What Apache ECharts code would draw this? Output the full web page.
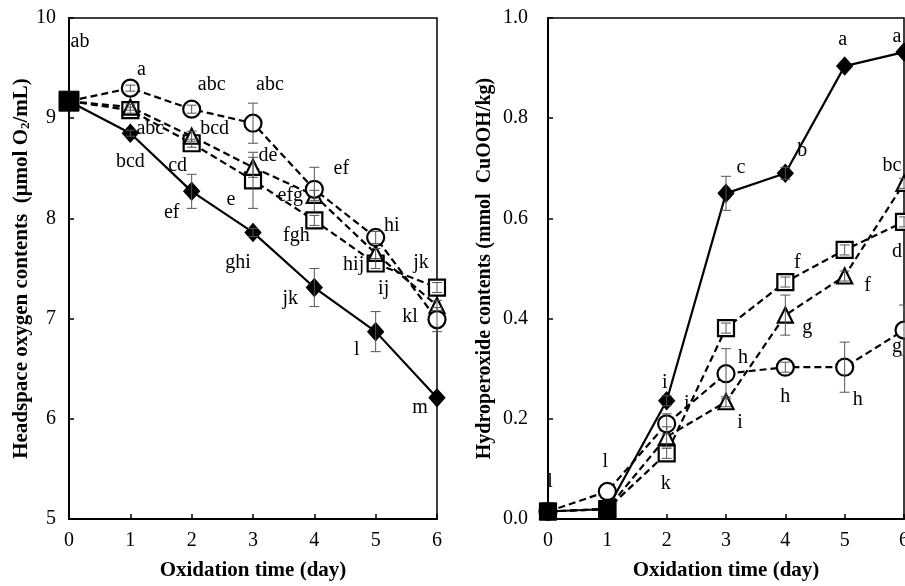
<!DOCTYPE html>
<html>
<head>
<meta charset="utf-8">
<script src="https://cdn.jsdelivr.net/npm/echarts@6/dist/echarts.min.js"></script>
<style>
  html, body { margin: 0; padding: 0; background: #fff; }
  #main { width: 905px; height: 586px; }
</style>
</head>
<body>
<div id="main"></div>
<script>
// oxidation days
var days = [0, 1, 2, 3, 4, 5, 6];

// headspace oxygen (umol O2/mL)
var o2Diamond  = [9.17, 8.85, 8.27, 7.86, 7.31, 6.87, 6.21];
var o2Circle   = [9.17, 9.30, 9.09, 8.95, 8.29, 7.81, 6.99];
var o2Triangle = [9.17, 9.11, 8.82, 8.51, 8.23, 7.65, 7.13];
var o2Square   = [9.17, 9.08, 8.75, 8.38, 7.98, 7.55, 7.31];
var o2DiamondErr  = [0, 0.03, 0.17, 0.04, 0.19, 0.20, 0];
var o2CircleErr   = [0, 0.03, 0.04, 0.20, 0.22, 0.06, 0.12];
var o2TriangleErr = [0, 0.03, 0.05, 0.10, 0.05, 0.05, 0.05];
var o2SquareErr   = [0, 0.03, 0.04, 0.28, 0.05, 0.05, 0.05];
var o2DiamondTags  = ['ab', 'bcd', 'ef', 'ghi', 'jk', 'l', 'm'];
var o2CircleTags   = ['', 'a', 'abc', 'abc', 'ef', 'hi', ''];
var o2TriangleTags = ['', 'abc', 'bcd', 'de', 'efg', 'hij', 'kl'];
var o2SquareTags   = ['', '', 'cd', 'e', 'fgh', 'ij', 'jk'];

// hydroperoxide (mmol CuOOH/kg)
var hpDiamond  = [0.015, 0.020, 0.236, 0.650, 0.690, 0.904, 0.932];
var hpCircle   = [0.015, 0.055, 0.190, 0.290, 0.303, 0.303, 0.377];
var hpTriangle = [0.015, 0.020, 0.164, 0.234, 0.407, 0.485, 0.670];
var hpSquare   = [0.015, 0.020, 0.131, 0.381, 0.473, 0.537, 0.593];
var hpDiamondErr  = [0, 0, 0.01, 0.034, 0.012, 0, 0];
var hpCircleErr   = [0, 0, 0.02, 0.05, 0.01, 0.05, 0.05];
var hpTriangleErr = [0, 0, 0.02, 0.01, 0.04, 0.01, 0.01];
var hpSquareErr   = [0, 0, 0.01, 0.01, 0.01, 0.01, 0.01];
var hpDiamondTags  = ['l', '', 'i', 'c', 'b', 'a', 'a'];
var hpCircleTags   = ['', 'l', 'i', 'h', 'h', 'h', 'g'];
var hpTriangleTags = ['', '', '', 'i', 'g', 'f', 'bc'];
var hpSquareTags   = ['', '', 'k', '', 'f', '', 'd'];

var xTicks = ['0', '1', '2', '3', '4', '5', '6'];

// where each letter sits relative to its marker (px)
var tagOffsets = {
  o2Diamond:  [[11, -59], [0, 29], [-20, 21], [-15, 30], [-24, 11], [-19, 18], [-17, 10]],
  o2Circle:   [null, [11, -18], [20, -24], [17, -38], [27, -21], [16, -12], null],
  o2Triangle: [null, [20, 22], [23, -7], [15, -12], [-24, 0], [-22, 11], [-27, 11]],
  o2Square:   [null, null, [-14, 22], [-22, 19], [-18, 15], [8, 25], [-16, -25]],
  hpDiamond:  [[2, -30], null, [-2, -18], [15, -26], [17, -23], [-2, -26], [-7, -15]],
  hpCircle:   [null, [-2, -30], [20, -20], [17, -16], [0, 30], [13, 33], [-7, 17]],
  hpTriangle: [null, null, null, [14, 21], [22, 13], [23, 10], [-12, -18]],
  hpSquare:   [null, null, [-1, 30], null, [12, -19], null, [-7, 30]]
};

var FONT = 'Liberation Serif';

function points(vals, tags, offs, filledIdx, filledSize) {
  return days.map(function (d, i) {
    var item = { value: [d, vals[i]] };
    if (tags[i]) {
      item.label = {
        show: true, position: 'inside', formatter: tags[i], offset: offs[i],
        color: '#000', fontFamily: FONT, fontSize: 20
      };
    }
    if (filledIdx && filledIdx.indexOf(i) >= 0) {
      item.symbol = 'rect';
      item.symbolSize = filledSize;
      item.itemStyle = { color: '#000', borderColor: '#000' };
    }
    return item;
  });
}

function lineSeries(idx, vals, tags, offs, kind, filledIdx, filledSize) {
  var s = {
    type: 'line',
    xAxisIndex: idx, yAxisIndex: idx,
    data: points(vals, tags, offs, filledIdx, filledSize),
    showAllSymbol: true,
    clip: false,
    z: 3,
    lineStyle: { color: '#000', width: 2.2, type: kind === 'diamond' ? 'solid' : [7, 4] },
    emphasis: { disabled: true }
  };
  if (kind === 'diamond') {
    s.symbol = 'diamond'; s.symbolSize = [16, 18];
    s.itemStyle = { color: '#000', borderColor: '#000' };
  } else {
    s.symbol = kind === 'square' ? 'rect' : kind;
    s.symbolSize = kind === 'circle' ? 17 : (kind === 'triangle' ? [15, 15] : 16);
    s.itemStyle = { color: '#fff', borderColor: '#000', borderWidth: 2.2 };
  }
  return s;
}

function errSeries(idx, vals, errs) {
  return {
    type: 'custom',
    xAxisIndex: idx, yAxisIndex: idx,
    z: 4,
    silent: true,
    data: days.map(function (d, i) { return [d, vals[i] - errs[i], vals[i] + errs[i]]; }),
    encode: { x: 0, y: [1, 2] },
    renderItem: function (params, api) {
      var lo = api.coord([api.value(0), api.value(1)]);
      var hi = api.coord([api.value(0), api.value(2)]);
      if (Math.abs(hi[1] - lo[1]) < 2) return;
      var w = 5;
      var st = { stroke: '#555', lineWidth: 1 };
      return {
        type: 'group',
        children: [
          { type: 'line', shape: { x1: lo[0], y1: lo[1], x2: hi[0], y2: hi[1] }, style: st },
          { type: 'line', shape: { x1: lo[0] - w, y1: lo[1], x2: lo[0] + w, y2: lo[1] }, style: st },
          { type: 'line', shape: { x1: hi[0] - w, y1: hi[1], x2: hi[0] + w, y2: hi[1] }, style: st }
        ]
      };
    }
  };
}

function xAxis(idx) {
  return {
    type: 'value', gridIndex: idx, min: 0, max: 6, interval: 1,
    name: 'Oxidation time (day)', nameLocation: 'middle', nameGap: 41,
    nameTextStyle: { fontFamily: FONT, fontSize: 21, fontWeight: 'bold', color: '#000' },
    axisLine: { lineStyle: { color: '#000', width: 2 } },
    axisTick: { inside: true, length: 5, lineStyle: { color: '#000', width: 1.5 } },
    axisLabel: { fontFamily: FONT, fontSize: 20, color: '#000', margin: 12,
      formatter: function (v) { return xTicks[v]; } },
    splitLine: { show: false }
  };
}

var yTitleStyle = {
  fontFamily: FONT, fontSize: 21, fontWeight: 'bold', color: '#000',
  rich: {
    b: { fontFamily: FONT, fontSize: 21, fontWeight: 'bold', color: '#000' },
    s: { fontFamily: FONT, fontSize: 13, fontWeight: 'bold', color: '#000', padding: [9, 0, 0, 0] }
  }
};

var option = {
  backgroundColor: '#fff',
  animation: false,
  grid: [
    { left: 69, right: 468, top: 18, bottom: 67, show: true, borderColor: '#000', borderWidth: 1.5,
      outerBoundsMode: 'none', containLabel: false },
    { left: 548, right: 1, top: 18, bottom: 67, show: true, borderColor: '#000', borderWidth: 1.5,
      outerBoundsMode: 'none', containLabel: false }
  ],
  xAxis: [xAxis(0), xAxis(1)],
  yAxis: [
    {
      type: 'value', gridIndex: 0, min: 5, max: 10, interval: 1,
      name: '{b|Headspace oxygen contents  (μmol O}{s|2}{b|/mL)}',
      nameLocation: 'middle', nameGap: 35, nameTextStyle: yTitleStyle,
      axisLine: { show: true, lineStyle: { color: '#000', width: 2 } },
      axisTick: { show: true, inside: true, length: 5, lineStyle: { color: '#000', width: 1.5 } },
      axisLabel: { fontFamily: FONT, fontSize: 20, color: '#000', margin: 13 },
      splitLine: { show: false }
    },
    {
      type: 'value', gridIndex: 1, min: 0, max: 1, interval: 0.2,
      name: 'Hydroperoxide contents (mmol  CuOOH/kg)',
      nameLocation: 'middle', nameGap: 53,
      nameTextStyle: { fontFamily: FONT, fontSize: 20, fontWeight: 'bold', color: '#000' },
      axisLine: { show: true, lineStyle: { color: '#000', width: 2 } },
      axisTick: { show: true, inside: true, length: 5, lineStyle: { color: '#000', width: 1.5 } },
      axisLabel: { fontFamily: FONT, fontSize: 20, color: '#000', margin: 20,
        formatter: function (v) { return v.toFixed(1); } },
      splitLine: { show: false }
    }
  ],
  series: [
    lineSeries(0, o2Square, o2SquareTags, tagOffsets.o2Square, 'square'),
    lineSeries(0, o2Triangle, o2TriangleTags, tagOffsets.o2Triangle, 'triangle'),
    lineSeries(0, o2Circle, o2CircleTags, tagOffsets.o2Circle, 'circle'),
    lineSeries(0, o2Diamond, o2DiamondTags, tagOffsets.o2Diamond, 'diamond', [0], 20),
    errSeries(0, o2Diamond, o2DiamondErr),
    errSeries(0, o2Circle, o2CircleErr),
    errSeries(0, o2Triangle, o2TriangleErr),
    errSeries(0, o2Square, o2SquareErr),

    lineSeries(1, hpSquare, hpSquareTags, tagOffsets.hpSquare, 'square'),
    lineSeries(1, hpTriangle, hpTriangleTags, tagOffsets.hpTriangle, 'triangle'),
    lineSeries(1, hpCircle, hpCircleTags, tagOffsets.hpCircle, 'circle'),
    lineSeries(1, hpDiamond, hpDiamondTags, tagOffsets.hpDiamond, 'diamond', [0, 1], 17),
    errSeries(1, hpDiamond, hpDiamondErr),
    errSeries(1, hpCircle, hpCircleErr),
    errSeries(1, hpTriangle, hpTriangleErr),
    errSeries(1, hpSquare, hpSquareErr)
  ]
};

var chart = echarts.init(document.getElementById('main'));
chart.setOption(option);
</script>
</body>
</html>
